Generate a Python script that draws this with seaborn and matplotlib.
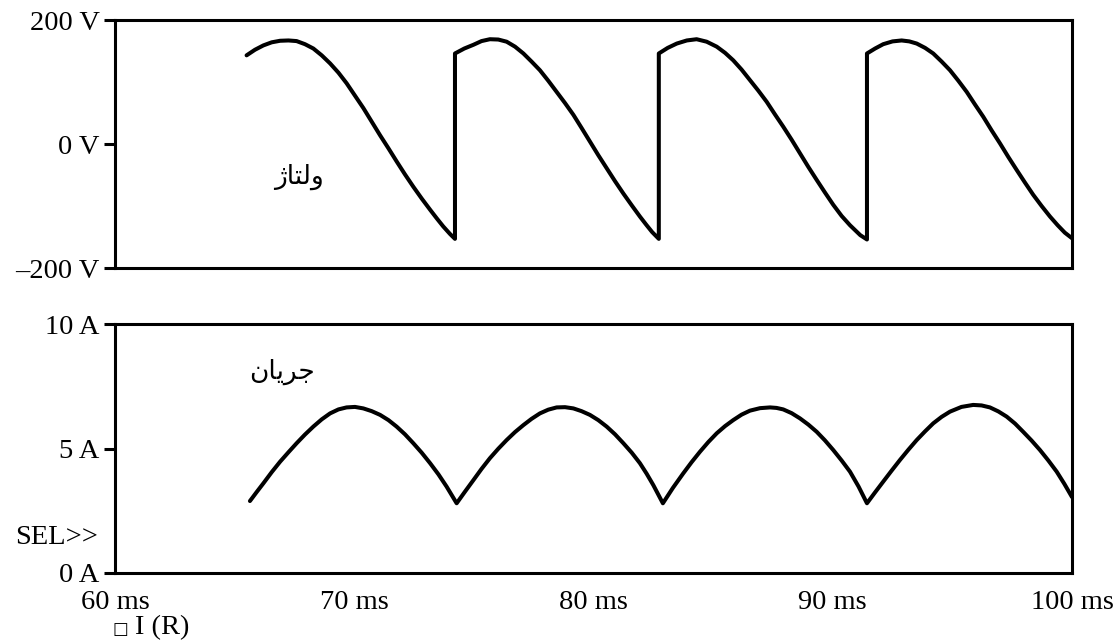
import numpy as np
import pandas as pd
import matplotlib
matplotlib.use("Agg")
import matplotlib.pyplot as plt
import seaborn as sns

# ---------------- data ----------------
volt_time_ms = [65.50, 65.85, 66.20, 66.55, 66.90, 67.25, 67.59, 67.94, 68.29, 68.64,
                68.99, 69.34, 69.68, 70.03, 70.38, 70.73, 71.08, 71.43, 71.77, 72.12,
                72.47, 72.82, 73.17, 73.45, 73.72, 74.00, 74.21,
                74.21, 74.60, 74.98, 75.32, 75.67, 76.02, 76.37, 76.72, 77.07, 77.41,
                77.76, 78.11, 78.46, 78.81, 79.16, 79.50, 79.85, 80.20, 80.55, 80.90,
                81.25, 81.60, 81.94, 82.20, 82.45, 82.73,
                82.73, 83.10, 83.48, 83.90, 84.31, 84.73, 85.15, 85.50, 85.84, 86.19,
                86.54, 86.89, 87.24, 87.58, 87.93, 88.28, 88.63, 88.98, 89.33, 89.67,
                90.02, 90.37, 90.72, 91.15, 91.43,
                91.43, 91.77, 92.11, 92.50, 92.88, 93.20, 93.51, 93.86, 94.20, 94.55,
                94.90, 95.25, 95.60, 95.94, 96.29, 96.64, 96.99, 97.34, 97.69, 98.03,
                98.38, 98.73, 99.08, 99.40, 99.70, 100.0]
volt_values_v = [143, 152, 159, 164, 166.5, 167, 166, 161, 154, 143,
                 130, 115, 98, 78, 58, 36, 14, -7, -28, -49,
                 -69, -88, -106, -120, -133, -145, -153,
                 146, 154, 160, 166, 169, 168.5, 165, 157, 146, 133,
                 119, 102, 84, 66, 47, 26, 4, -18, -39, -60,
                 -80, -99, -117, -130, -142, -153,
                 146, 155, 162, 167, 169, 165, 157, 147, 135, 120,
                 103, 86, 68, 48, 28, 7, -15, -37, -58, -78,
                 -98, -116, -131, -147, -154,
                 146, 154, 161, 165.5, 167, 165.5, 162, 155, 146, 133,
                 119, 102, 84, 64, 44, 22, 1, -21, -42, -62,
                 -82, -100, -117, -131, -143, -152]

curr_time_ms = [65.64, 65.92, 66.20, 66.55, 66.90, 67.25, 67.59, 67.94, 68.29, 68.64,
                68.99, 69.34, 69.68, 70.03, 70.38, 70.73, 71.08, 71.43, 71.77, 72.12,
                72.47, 72.82, 73.17, 73.52, 73.86, 74.28,
                74.63, 74.98, 75.32, 75.67, 76.02, 76.37, 76.72, 77.07, 77.41, 77.76,
                78.11, 78.46, 78.81, 79.16, 79.50, 79.85, 80.20, 80.55, 80.90, 81.25,
                81.60, 81.94, 82.22, 82.50, 82.90,
                83.32, 83.75, 84.10, 84.45, 84.80, 85.15, 85.50, 85.84, 86.19, 86.54,
                86.96, 87.38, 87.65, 87.93, 88.28, 88.63, 88.98, 89.33, 89.67, 90.02,
                90.37, 90.72, 91.08, 91.43,
                91.77, 92.11, 92.46, 92.81, 93.16, 93.51, 93.86, 94.20, 94.55, 94.90,
                95.38, 95.87, 96.22, 96.57, 96.92, 97.27, 97.62, 97.96, 98.31, 98.66,
                99.01, 99.36, 99.68, 100.0]
curr_values_a = [2.89, 3.25, 3.60, 4.05, 4.47, 4.85, 5.21, 5.56, 5.88, 6.17,
                 6.41, 6.57, 6.65, 6.67, 6.61, 6.50, 6.35, 6.14, 5.88, 5.57,
                 5.21, 4.83, 4.41, 3.96, 3.47, 2.80,
                 3.27, 3.73, 4.18, 4.61, 4.99, 5.34, 5.66, 5.94, 6.19, 6.41,
                 6.56, 6.65, 6.66, 6.61, 6.50, 6.35, 6.14, 5.88, 5.57, 5.21,
                 4.83, 4.41, 3.99, 3.53, 2.80,
                 3.42, 4.00, 4.45, 4.87, 5.26, 5.61, 5.90, 6.14, 6.36, 6.52,
                 6.62, 6.65, 6.63, 6.57, 6.42, 6.21, 5.96, 5.67, 5.33, 4.94,
                 4.52, 4.07, 3.47, 2.80,
                 3.24, 3.67, 4.11, 4.54, 4.95, 5.34, 5.69, 6.01, 6.27, 6.48,
                 6.67, 6.75, 6.73, 6.65, 6.49, 6.28, 6.00, 5.67, 5.32, 4.94,
                 4.52, 4.07, 3.58, 3.05]

x_ticks = [60, 70, 80, 90, 100]
x_tick_labels = ["60 ms", "70 ms", "80 ms", "90 ms", "100 ms"]
v_ticks = [-200, 0, 200]
v_tick_labels = ["\u2013200 V", "0 V", "200 V"]
i_ticks = [0, 5, 10]
i_tick_labels = ["0 A", "5 A", "10 A"]

voltage_label = "ولتاژ"
current_label = "جریان"
trace_label = "I (R)"
sel_label = "SEL>>"

# ---------------- minimal Arabic shaping (matplotlib has no shaper) ----------------
ARABIC_FORMS = {
    'ج': ('\uFE9D', '\uFE9E', '\uFE9F', '\uFEA0'),
    'ر': ('\uFEAD', '\uFEAE', None, None),
    'ی': ('\uFBFC', '\uFBFD', '\uFBFE', '\uFBFF'),
    'ا': ('\uFE8D', '\uFE8E', None, None),
    'ن': ('\uFEE5', '\uFEE6', '\uFEE7', '\uFEE8'),
    'و': ('\uFEED', '\uFEEE', None, None),
    'ل': ('\uFEDD', '\uFEDE', '\uFEDF', '\uFEE0'),
    'ت': ('\uFE95', '\uFE96', '\uFE97', '\uFE98'),
    'ژ': ('\uFB8A', '\uFB8B', None, None),
}


def shape_rtl(s):
    out = []
    for i, c in enumerate(s):
        iso, fin, ini, med = ARABIC_FORMS[c]
        prev_joins = i > 0 and ARABIC_FORMS[s[i - 1]][2] is not None
        next_joins = i < len(s) - 1 and ini is not None
        if prev_joins and next_joins:
            f = med
        elif prev_joins:
            f = fin
        elif next_joins:
            f = ini
        else:
            f = iso
        out.append(f)
    return "".join(reversed(out))


# ---------------- style ----------------
sns.set_theme(style="white")
plt.rcParams["font.family"] = ["Liberation Serif", "DejaVu Sans"]
plt.rcParams["text.color"] = "black"
plt.rcParams["xtick.color"] = "black"
plt.rcParams["ytick.color"] = "black"
plt.rcParams["axes.edgecolor"] = "black"
plt.rcParams["axes.linewidth"] = 2.2

FS = 20.5
LW = 2.9

fig = plt.figure(figsize=(11.14, 6.43), dpi=100)
ax_v = fig.add_axes([115 / 1114, 1 - 268 / 643, 957 / 1114, 248 / 643])
ax_i = fig.add_axes([115 / 1114, 1 - 573 / 643, 957 / 1114, 249 / 643])

df_v = pd.DataFrame({"t": volt_time_ms, "v": volt_values_v})
df_i = pd.DataFrame({"t": curr_time_ms, "i": curr_values_a})

sns.lineplot(data=df_v, x="t", y="v", ax=ax_v, estimator=None, sort=False,
             color="black", linewidth=LW)
sns.lineplot(data=df_i, x="t", y="i", ax=ax_i, estimator=None, sort=False,
             color="black", linewidth=LW)

for ax in (ax_v, ax_i):
    ax.set_xlim(60, 100)
    ax.set_xlabel("")
    ax.set_ylabel("")
    for sp in ax.spines.values():
        sp.set_visible(True)
        sp.set_color("black")
        sp.set_linewidth(2.2)
    ax.tick_params(axis="y", direction="out", length=8, width=2.2, pad=3,
                   labelsize=FS, colors="black", left=True)

ax_v.set_ylim(-200, 200)
ax_v.set_yticks(v_ticks)
ax_v.set_yticklabels(v_tick_labels)
ax_v.set_xticks(x_ticks)
ax_v.tick_params(axis="x", length=0, labelbottom=False)

ax_i.set_ylim(0, 10)
ax_i.set_yticks(i_ticks)
ax_i.set_yticklabels(i_tick_labels)
ax_i.set_xticks(x_ticks)
ax_i.set_xticklabels(x_tick_labels)
ax_i.tick_params(axis="x", length=0, pad=12, labelsize=FS, colors="black")

ax_v.text(0.1923, 0.367, shape_rtl(voltage_label), transform=ax_v.transAxes,
          ha="center", va="center", fontsize=19,
          family=["DejaVu Sans"], color="black")
ax_i.text(0.1745, 0.807, shape_rtl(current_label), transform=ax_i.transAxes,
          ha="center", va="center", fontsize=19,
          family=["DejaVu Sans"], color="black")

fig.text(98 / 1114, 1 - 538 / 643, sel_label, ha="right", va="center",
         fontsize=FS, color="black")
fig.text(113 / 1114, 1 - 629 / 643, "\u25a1", ha="left", va="center", fontsize=12,
         family=["DejaVu Sans"], color="black")
fig.text(135 / 1114, 1 - 628 / 643, trace_label, ha="left", va="center",
         fontsize=FS, color="black")

fig.savefig("out.png", dpi=100)
